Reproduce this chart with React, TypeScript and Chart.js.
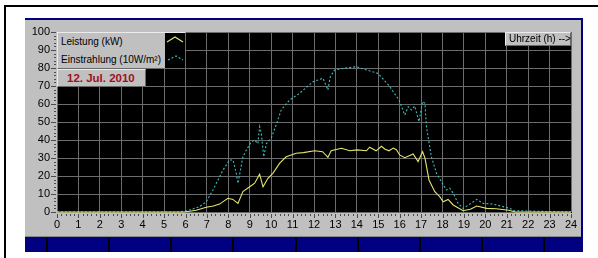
import React, { useEffect, useRef } from "react";
import { Chart, registerables } from "chart.js";

Chart.register(...registerables);

// ---- data ----
const hourTicks: number[] = Array.from({ length: 25 }, (_, i) => i);
const valueTicks: number[] = [0, 10, 20, 30, 40, 50, 60, 70, 80, 90, 100];

const leistungLabel = "Leistung (kW)";
const einstrahlungLabel = "Einstrahlung (10W/m²)";
const dateLabel = "12. Jul. 2010";
const axisLabel = "Uhrzeit (h) -->";

const leistungTime: number[] = [
  0, 5.9, 6.2, 6.5, 6.97, 7.3, 7.59, 7.98, 8.21, 8.45, 8.68, 9.0, 9.23, 9.46, 9.62, 9.85,
  10.08, 10.39, 10.7, 11.17, 11.5, 12.03, 12.4, 12.65, 12.8, 13.28, 13.67, 14.0, 14.45,
  14.6, 14.9, 15.15, 15.3, 15.5, 15.7, 15.85, 16.0, 16.24, 16.63, 16.86, 17.07, 17.18,
  17.37, 17.64, 17.87, 18.03, 18.26, 18.5, 18.96, 19.3, 19.6, 20.06, 20.5, 21.1, 21.4, 24,
];
const leistungValues: number[] = [
  0, 0, 0.4, 1, 2.6, 3.3, 4.4, 7.6, 7, 4.8, 11.3, 14, 16, 21, 14, 18.7,
  21.5, 27, 30.7, 32.6, 33, 34, 33.5, 30.4, 34, 35.4, 34, 34.5, 34,
  36, 34, 36.5, 35, 34, 35.5, 34.6, 31.7, 30.2, 32.2, 28, 33.5, 30,
  17.8, 11.3, 8.5, 5.7, 7, 3.9, 0.7, 1.5, 3.3, 2, 1.8, 1, 0, 0,
];

const einstrahlungTime: number[] = [
  0, 5.6, 6.0, 6.3, 6.66, 6.97, 7.28, 7.75, 8.06, 8.22, 8.37, 8.45, 8.56, 8.68, 8.84,
  9.07, 9.23, 9.38, 9.46, 9.54, 9.65, 9.78, 10.0, 10.25, 10.47, 10.86, 11.33, 11.95,
  12.42, 12.65, 12.76, 12.97, 13.36, 13.98, 14.45, 14.99, 15.54, 15.97, 16.24, 16.4,
  16.55, 16.7, 16.9, 17.07, 17.18, 17.25, 17.48, 17.72, 17.95, 18.18, 18.34, 18.5,
  18.73, 18.96, 19.28, 19.6, 19.9, 20.36, 20.83, 21.14, 21.37, 24,
];
const einstrahlungValues: number[] = [
  0, 0, 0.5, 1.5, 3, 5.7, 12.2, 23.3, 28.9, 28.9, 21.5, 15.9, 23, 30.7, 34.4,
  39, 40, 38, 47.4, 43.7, 30.7, 38, 41, 49, 56.7, 62.2, 66, 72.4,
  74.3, 67.8, 75.2, 78.9, 79.8, 80.7, 78.9, 77, 69.6, 62.2, 53.9, 58.5,
  56.7, 58.9, 50.2, 61.3, 60.4, 47.4, 30.7, 21.5, 16.8, 12.2, 13.2, 10.4,
  4.8, 2, 4.4, 7, 4.8, 4.4, 3, 2, 0.7, 0,
];

const YELLOW = "#e4e46c";
const CYAN = "#40bcbc";
const PANEL = "#c0c0c0";
const NAVY = "#000080";
const FONT = "'Liberation Sans', Arial, sans-serif";

const dividers: number[] = [46, 108, 170, 232, 295, 357, 419, 481, 543];

const bgPlugin = {
  id: "bgPlugin",
  beforeDraw(chart: any) {
    const { ctx, chartArea: a } = chart;
    ctx.save();
    ctx.fillStyle = "#000";
    ctx.fillRect(a.left, a.top, a.right - a.left + 1, a.bottom - a.top + 1);
    ctx.restore();
  },
  afterDraw(chart: any) {
    const { ctx, chartArea: a } = chart;
    const xs = chart.scales.x;
    const ys = chart.scales.y;
    ctx.save();
    ctx.strokeStyle = "#4a4a4a";
    ctx.lineWidth = 1;
    for (let i = 0; i <= 24 * 5; i++) {
      const v = i / 5;
      const px = Math.round(xs.getPixelForValue(v)) + 0.5;
      const len = i % 5 === 0 ? 4 : 2;
      ctx.beginPath();
      ctx.moveTo(px, a.bottom + 2);
      ctx.lineTo(px, a.bottom + 2 + len);
      ctx.stroke();
    }
    for (let i = 0; i <= 50; i++) {
      const v = i * 2;
      const py = Math.round(ys.getPixelForValue(v)) + 0.5;
      const len = i % 5 === 0 ? 5 : 2;
      ctx.beginPath();
      ctx.moveTo(a.left - 1, py);
      ctx.lineTo(a.left - 1 - len, py);
      ctx.stroke();
    }
    ctx.restore();
  },
};

export default function App() {
  const ref = useRef<HTMLCanvasElement | null>(null);

  useEffect(() => {
    if (!ref.current) return;
    const chart = new Chart(ref.current, {
      type: "line",
      data: {
        datasets: [
          {
            label: leistungLabel,
            data: leistungTime.map((t, i) => ({ x: t, y: leistungValues[i] })),
            borderColor: YELLOW,
            borderWidth: 1.1,
            pointRadius: 0,
            tension: 0,
            clip: 4,
          },
          {
            label: einstrahlungLabel,
            data: einstrahlungTime.map((t, i) => ({ x: t, y: einstrahlungValues[i] })),
            borderColor: CYAN,
            borderWidth: 1.1,
            borderDash: [2, 2],
            pointRadius: 0,
            tension: 0,
            clip: 4,
          },
        ],
      },
      options: {
        animation: false,
        responsive: false,
        maintainAspectRatio: false,
        events: [],
        layout: { padding: { left: 27, right: 27, top: 32, bottom: 26 } },
        plugins: { legend: { display: false }, tooltip: { enabled: false } },
        scales: {
          x: {
            type: "linear",
            min: 0,
            max: 24,
            afterFit: (s: any) => {
              s.height = 20;
            },
            afterBuildTicks: (s: any) => {
              s.ticks = hourTicks.map((v) => ({ value: v }));
            },
            ticks: {
              color: "#000",
              font: { family: FONT, size: 11 },
              padding: 6,
              maxRotation: 0,
              autoSkip: false,
            },
            grid: { color: "#6c6c6c", drawTicks: false, lineWidth: 1 },
            border: { display: false },
          },
          y: {
            type: "linear",
            min: 0,
            max: 100,
            afterFit: (s: any) => {
              s.width = 30;
            },
            afterBuildTicks: (s: any) => {
              s.ticks = valueTicks.map((v) => ({ value: v }));
            },
            ticks: {
              color: "#000",
              font: { family: FONT, size: 11 },
              padding: 7,
              autoSkip: false,
            },
            grid: { color: "#6c6c6c", drawTicks: false, lineWidth: 1 },
            border: { display: false },
          },
        },
      },
      plugins: [bgPlugin],
    });
    return () => chart.destroy();
  }, []);

  const box = (extra: React.CSSProperties): React.CSSProperties => ({
    position: "absolute",
    background: PANEL,
    borderTop: "1px solid #ececec",
    borderLeft: "1px solid #ececec",
    borderBottom: "1px solid #6a6a6a",
    borderRight: "1px solid #6a6a6a",
    boxSizing: "border-box",
    fontFamily: FONT,
    ...extra,
  });

  return (
    <div
      style={{
        position: "absolute",
        left: 0,
        top: 0,
        width: 598,
        height: 258,
        background: "#fff",
        overflow: "hidden",
      }}
    >
      <div style={{ position: "absolute", left: 4, top: 5, width: 594, height: 2, background: "#000" }} />
      <div style={{ position: "absolute", left: 4, top: 5, width: 2, height: 253, background: "#000" }} />
      <div style={{ position: "absolute", left: 25, top: 18, width: 558, height: 234, background: NAVY }} />
      <div style={{ position: "absolute", left: 25, top: 20, width: 556, height: 217, background: PANEL }} />
      <div style={{ position: "absolute", left: 25, top: 236, width: 556, height: 1, background: "#8a8a8a" }} />
      {dividers.map((x) => (
        <div key={x} style={{ position: "absolute", left: x, top: 238, width: 2, height: 14, background: "#000" }} />
      ))}
      <canvas
        ref={ref}
        width={598}
        height={258}
        style={{ position: "absolute", left: 0, top: 0, width: 598, height: 258 }}
      />
      <div style={box({ left: 57, top: 32, width: 129, height: 37 })}>
        <div style={{ position: "absolute", left: 3, top: 3, fontSize: 10, lineHeight: "12px", color: "#000" }}>
          {leistungLabel}
        </div>
        <div style={{ position: "absolute", left: 3, top: 21, fontSize: 10, lineHeight: "12px", color: "#000" }}>
          {einstrahlungLabel}
        </div>
        <svg
          width={20}
          height={35}
          style={{ position: "absolute", left: 107, top: 0, background: "#000" }}
        >
          <polyline points="2,9 10,4 18,9" fill="none" stroke={YELLOW} strokeWidth={1.2} />
          <polyline points="3,27 11,23 18,27" fill="none" stroke={CYAN} strokeWidth={1.2} strokeDasharray="2,2" />
        </svg>
      </div>
      <div style={box({ left: 57, top: 69, width: 89, height: 18 })}>
        <div
          style={{
            position: "absolute",
            left: 9,
            top: 2,
            fontSize: 11.5,
            lineHeight: "13px",
            fontWeight: "bold",
            color: "#a01020",
          }}
        >
          {dateLabel}
        </div>
      </div>
      <div style={box({ left: 505, top: 32, width: 66, height: 14 })}>
        <div
          style={{
            position: "absolute",
            left: 3,
            top: 0,
            fontSize: 10,
            lineHeight: "12px",
            color: "#000",
            whiteSpace: "nowrap",
          }}
        >
          {axisLabel}
        </div>
      </div>
    </div>
  );
}
